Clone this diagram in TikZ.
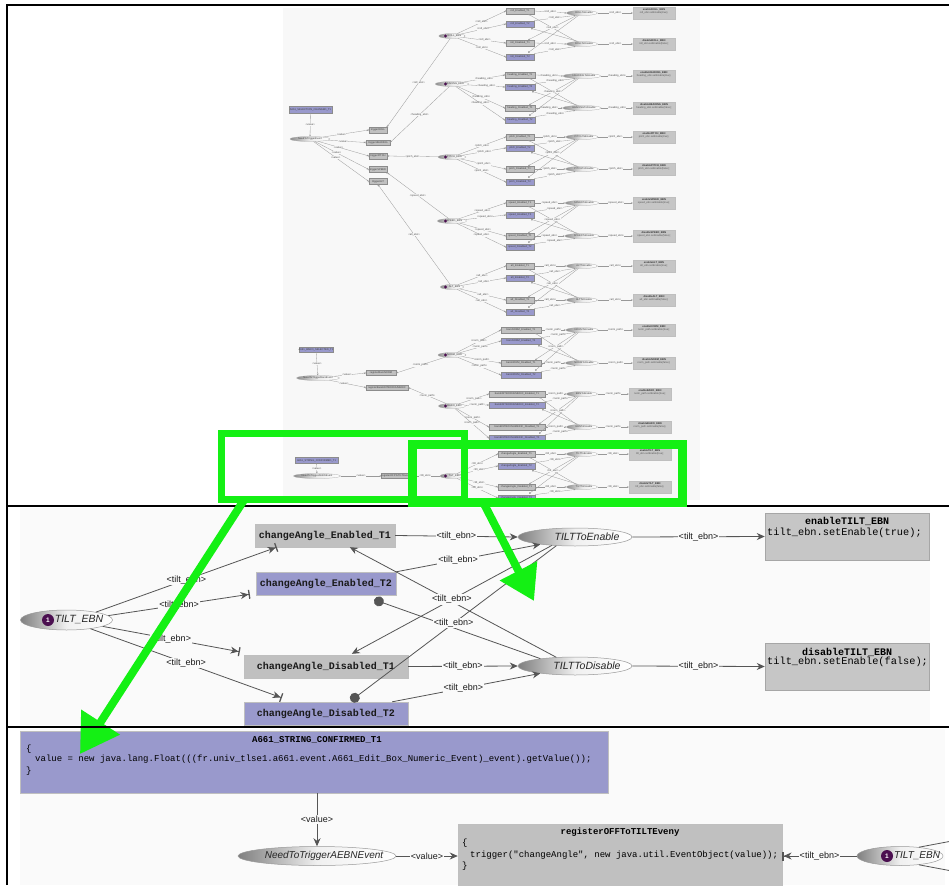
\documentclass[tikz,border=0pt]{standalone}
\usepackage{fontspec}
\setmainfont{Liberation Sans}
\newfontfamily\monof{Liberation Mono}
\usetikzlibrary{arrows.meta,shapes.geometric}
\definecolor{boxgray}{RGB}{192,192,192}
\definecolor{actgray}{RGB}{198,198,198}
\definecolor{boxblue}{RGB}{153,153,204}
\definecolor{panelbg}{RGB}{250,250,250}
\definecolor{netbg}{RGB}{248,248,248}
\definecolor{hgreen}{RGB}{20,240,20}
\definecolor{edgec}{RGB}{85,85,85}
\definecolor{tokc}{RGB}{75,15,80}
\definecolor{darkedge}{RGB}{60,60,60}
\newcommand\tinyf{\fontsize{2.6}{3}\selectfont}
\newcommand\tinyb{\fontsize{2.6}{3}\selectfont\bfseries}
\newcommand\setg[4]{\def\gn{#1}\def\gN{#2}\def\gE{#3}\def\gl{#4}}
\newcommand\pgroup[9]{%
\node[tell, minimum width=22] (g#1e) at (452,#2) {\hspace*{5pt}\gE};
\node[ttok] (g#1k) at (445.5,#2) {};
\node[tgray, minimum width=#7] (g#1b1) at (\bx,#3) {\gn\_Enabled\_T1};
\node[tblue, minimum width=#7] (g#1b2) at (\bx,#4) {\gn\_Enabled\_T2};
\node[tgray, minimum width=#7] (g#1b3) at (\bx,#5) {\gn\_Disabled\_T1};
\node[tblue, minimum width=#7] (g#1b4) at (\bx,#6) {\gn\_Disabled\_T2};
\node[tell, minimum width=31] (g#1t1) at (582,#8) {\hspace*{4pt}\gN ToEnable};
\node[tell, minimum width=31] (g#1t2) at (582,#9) {\hspace*{4pt}\gN ToDisable};
\node[tact] (g#1a1) at (\ax,#8) {};
\node[tact] (g#1a2) at (\ax,#9) {};
\node[tactt] (g#1a1t) at ([yshift=-2.5pt]g#1a1.north) {enable\gE};
\node[tactc] (g#1a1c) at ([yshift=-5.5pt]g#1a1.north) {\gl.setEnable(true);};
\node[tactt] (g#1a2t) at ([yshift=-2.5pt]g#1a2.north) {disable\gE};
\node[tactc] (g#1a2c) at ([yshift=-5.5pt]g#1a2.north) {\gl.setEnable(false);};
\draw[tbar] (g#1e) -- node[tlab]{<\gl>} (g#1b1.west);
\draw[tbar] (g#1e) -- node[tlab]{<\gl>} (g#1b2.west);
\draw[tbar] (g#1e) -- node[tlab]{<\gl>} (g#1b3.west);
\draw[tbar] (g#1e) -- node[tlab]{<\gl>} (g#1b4.west);
\draw[tarr] (g#1b1.east) -- node[tlab]{<\gl>} (g#1t1.west);
\draw[tarr] (g#1b2.north east) -- node[tlab]{<\gl>} (g#1t1.200);
\draw[tarr] (g#1b3.east) -- node[tlab]{<\gl>} (g#1t2.west);
\draw[tarr] (g#1b4.north east) -- node[tlab]{<\gl>} (g#1t2.200);
\draw[tarr] (g#1t1.east) -- node[tlab]{<\gl>} (g#1a1.west);
\draw[tarr] (g#1t2.east) -- node[tlab]{<\gl>} (g#1a2.west);
\draw[tarr] (g#1t1.205) -- ([xshift=-6pt]g#1b3.north east);
\draw[tdot] (g#1t1.215) -- ([xshift=-6pt,yshift=1pt]g#1b4.north east);
\draw[tarr] (g#1t2.155) -- node[tlab]{<\gl>} ([xshift=-6pt]g#1b1.south east);
\draw[tdot] (g#1t2.145) -- ([xshift=-3pt,yshift=-1pt]g#1b2.south east);
}
\begin{document}
\begin{tikzpicture}[x=1pt,y=-1pt,
 tbox/.style={rectangle, inner sep=0pt, font=\tinyf, text=black!75, draw=black!45, line width=0.25pt},
 tgray/.style={tbox, fill=boxgray, minimum height=6},
 tblue/.style={tbox, fill=boxblue, minimum height=6.5},
 tell/.style={ellipse, inner sep=0pt, draw=black!35, line width=0.25pt, left color=black!45, right color=white, middle color=black!8, minimum height=5, font=\tinyf, text=black!75},
 ttok/.style={circle, fill=tokc, inner sep=0pt, minimum size=3.2},
 tact/.style={rectangle, fill=actgray, draw=black!25, line width=0.3pt, minimum width=42, minimum height=12, inner sep=0pt},
 tactt/.style={font=\tinyb, text=black!80, inner sep=0pt},
 tactc/.style={font=\tinyf, text=black!65, inner sep=0pt},
 tline/.style={draw=black!40, line width=0.3pt},
 tarr/.style={tline, -{Stealth[length=1.8pt,width=1.6pt]}},
 tbar/.style={tline, -{Stealth[length=1.8pt,width=1.6pt]Bar[width=2.2pt,line width=0.3pt]}},
 tdot/.style={tline, -{Circle[length=1.8pt]}},
 tlab/.style={font=\tinyf, text=black!70, fill=netbg, inner sep=0.3pt},
 mbox/.style={rectangle, inner sep=0pt, font=\monof\bfseries\fontsize{10}{12}\selectfont, text=black!90, draw=black!25, line width=0.4pt, path picture={\draw[darkedge, line width=2.6pt] (path picture bounding box.south west) -- (path picture bounding box.north west) -- (path picture bounding box.north east);}},
 mell/.style={ellipse, inner sep=0pt, draw=black!40, line width=0.5pt, left color=black!50, right color=white, middle color=black!6},
 etext/.style={font=\itshape\fontsize{10.5}{12}\selectfont, text=black!85, inner sep=0pt},
 tokm/.style={circle, fill=tokc, inner sep=0pt, minimum size=12, text=white, font=\bfseries\fontsize{6.5}{7}\selectfont},
 abox/.style={rectangle, fill=actgray, draw=black!35, line width=0.5pt, inner sep=0pt},
 atitle/.style={font=\monof\bfseries\fontsize{10}{12}\selectfont, inner sep=0pt},
 acode/.style={font=\monof\fontsize{10.3}{12}\selectfont, inner sep=0pt},
 btitle/.style={font=\monof\bfseries\fontsize{9}{11}\selectfont, inner sep=0pt},
 bcode/.style={font=\monof\fontsize{9}{11}\selectfont, inner sep=0pt, anchor=west},
 medge/.style={draw=edgec, line width=0.8pt},
 marr/.style={medge, -{Stealth[length=8pt,width=7pt]}},
 mbar/.style={medge, -{Stealth[length=8pt,width=7pt]Bar[width=9pt,line width=1.3pt]}},
 mdot/.style={medge, -{Circle[length=10pt]}},
 mlab/.style={font=\fontsize{9}{10}\selectfont, text=black!90, fill=panelbg, inner sep=1pt},
 gline/.style={draw=hgreen},
 garr/.style={draw=hgreen, line width=8pt, -{Triangle[length=38pt,width=44pt]}}
]
\useasboundingbox (0,0) rectangle (949,885);
\fill[white] (0,0) rectangle (949,885);
% ===== top panel: overview screenshot =====
\fill[netbg] (283,8) rectangle (700,500);
% net 1
\node[tblue, minimum width=43, minimum height=7] (n1b) at (310.5,109.5) {A661\_SELECTION\_CHANGED\_T1};
\node[tell, minimum width=40] (n1e) at (310,139) {NeedToTriggerEvent};
\node[tgray, minimum width=18] (n1t1) at (378,130) {triggerROLL};
\node[tgray, minimum width=24, minimum height=5] (n1t2) at (378,142.5) {triggerHEADING};
\node[tgray, minimum width=18] (n1t3) at (378,156) {triggerPITCH};
\node[tgray, minimum width=18] (n1t4) at (378,169.5) {triggerSPEED};
\node[tgray, minimum width=18] (n1t5) at (378,181.5) {triggerALT};
\draw[tarr] (n1b) -- node[tlab]{<value>} (n1e);
\draw[tbar] (n1e) -- node[tlab, pos=.4]{<value>} (n1t1.west);
\draw[tbar] (n1e) -- node[tlab, pos=.4]{<value>} (n1t2.west);
\draw[tbar] (n1e) -- node[tlab, pos=.4]{<value>} (n1t3.west);
\draw[tbar] (n1e) -- node[tlab, pos=.4]{<value>} (n1t4.west);
\draw[tbar] (n1e) -- node[tlab, pos=.4]{<value>} (n1t5.west);
\def\ax{654}\def\bx{520}
\setg{roll}{ROLL}{ROLL\_EBN}{roll\_ebn}
\pgroup{1}{36}{11}{24}{43}{57}{28}{13}{44}
\setg{heading}{HEADING}{HEADING\_EBN}{heading\_ebn}
\pgroup{2}{84}{75}{87}{108}{120}{30}{76}{108}
\setg{pitch}{PITCH}{PITCH\_EBN}{pitch\_ebn}
\pgroup{3}{157}{137}{148}{169}{182}{28}{137}{169}
\setg{speed}{SPEED}{SPEED\_EBN}{speed\_ebn}
\pgroup{4}{221}{203}{215}{236}{247}{28}{203}{236}
\setg{alt}{ALT}{ALT\_EBN}{alt\_ebn}
\pgroup{5}{287}{266}{278}{300}{312}{28}{266}{300}
\draw[tbar] (g1e) -- node[tlab]{<roll\_ebn>} (n1t1.north east);
\draw[tbar] (g2e) -- node[tlab]{<heading\_ebn>} (n1t2.east);
\draw[tbar] (g3e) -- node[tlab]{<pitch\_ebn>} (n1t3.east);
\draw[tbar] (g4e) -- node[tlab]{<speed\_ebn>} (n1t4.south east);
\draw[tbar] (g5e) -- node[tlab]{<alt\_ebn>} (n1t5.south);
% net 2
\node[tblue, minimum width=28, minimum height=5] (n2b) at (316,349.5) {A661\_BARO\_SELECTED\_T1};
\node[tell, minimum width=43] (n2e) at (318,378) {NeedToTriggerBaroEvent};
\node[tgray, minimum width=30, minimum height=5] (n2t1) at (381,373) {registerBaroNORM};
\node[tgray, minimum width=42, minimum height=5] (n2t2) at (387,387.5) {registerBaroEDITBOXNUMERIC};
\draw[tarr] (n2b) -- node[tlab]{<value>} (n2e);
\draw[tbar] (n2e) -- node[tlab, pos=.4]{<value>} (n2t1.west);
\draw[tbar] (n2e) -- node[tlab, pos=.4]{<value>} (n2t2.west);
\def\bx{521}
\setg{baroNORM}{NORM}{NORM\_EBN}{norm\_path}
\pgroup{6}{355}{330}{341}{363}{375}{40}{330}{363}
\def\ax{650}\def\bx{517}
\setg{baroEDITBOXNUMERIC}{EBN}{BARO\_EBN}{norm\_path}
\pgroup{7}{406}{394}{405}{427}{438}{56}{394}{427}
\draw[tbar] (g6e) -- node[tlab]{<norm\_path>} (n2t1.east);
\draw[tbar] (g7e) -- node[tlab]{<norm\_path>} (n2t2.east);
% net 3
\node[tblue, minimum width=43, minimum height=6] (n3b) at (316.5,460.5) {A661\_STRING\_CONFIRMED\_T1};
\node[tell, minimum width=47] (n3e) at (317,476) {NeedToTriggerAEBNEvent};
\node[tgray, minimum width=28, minimum height=5] (n3t) at (396,476) {registerOFFToTILTEveny};
\draw[tarr] (n3b) -- node[tlab]{<value>} (n3e);
\draw[tarr] (n3e) -- node[tlab]{<value>} (n3t.west);
\def\bx{516.5}
\setg{changeAngle}{TILT}{TILT\_EBN}{tilt\_ebn}
\pgroup{8}{476}{454}{466}{487}{498}{37}{454}{487}
\draw[tbar] (g8e) -- node[tlab]{<tilt\_ebn>} (n3t.east);
% ===== middle panel =====
\fill[panelbg] (20,508) rectangle (930,725);
\node[mbox, fill=boxgray, minimum width=140, minimum height=23] (ce1) at (325,535.5) {changeAngle\_Enabled\_T1};
\node[mbox, fill=boxblue, minimum width=140, minimum height=23] (ce2) at (326,583.5) {changeAngle\_Enabled\_T2};
\node[mbox, fill=boxgray, minimum width=164, minimum height=23] (cd1) at (326,666.5) {changeAngle\_Disabled\_T1};
\node[mbox, fill=boxblue, minimum width=164, minimum height=23] (cd2) at (326,713.5) {changeAngle\_Disabled\_T2};
\node[mell, minimum width=92, minimum height=20] (tilt) at (66.5,620) {};
\node[tokm] (tok) at (48,620) {1};
\node[etext] (tiltT) at (79,620) {TILT\_EBN};
\node[mell, minimum width=114, minimum height=18] (ten) at (575,537) {};
\node[etext] (tenT) at (587,537) {TILTToEnable};
\node[mell, minimum width=114, minimum height=18] (tdis) at (575,666) {};
\node[etext] (tdisT) at (587,666) {TILTToDisable};
\node[abox, minimum width=164, minimum height=47] (enb) at (847,536.5) {};
\node[atitle] (enbT) at (847,521) {enableTILT\_EBN};
\node[acode, anchor=west] (enbC) at (767,532.5) {tilt\_ebn.setEnable(true);};
\node[abox, minimum width=164, minimum height=47] (disb) at (847,666.5) {};
\node[atitle] (disbT) at (847,652) {disableTILT\_EBN};
\node[acode, anchor=west] (disbC) at (767,662) {tilt\_ebn.setEnable(false);};
\draw[mbar] (tilt.15) -- node[mlab]{<tilt\_ebn>} ([xshift=22pt]ce1.south west);
\draw[mbar] (tilt.6) -- node[mlab]{<tilt\_ebn>} ([xshift=-6pt,yshift=1pt]ce2.south west);
\draw[mbar] (tilt.-10) -- node[mlab]{<tilt\_ebn>} ([xshift=-4pt,yshift=3pt]cd1.north west);
\draw[mbar] (tilt.-20) -- node[mlab]{<tilt\_ebn>} ([xshift=38pt,yshift=4pt]cd2.north west);
\draw[marr] (ce1.east) -- node[mlab]{<tilt\_ebn>} (ten.west);
\draw[marr] (ce2.north east) -- node[mlab, pos=.43]{<tilt\_ebn>} (ten.192);
\draw[marr] (cd1.east) -- node[mlab]{<tilt\_ebn>} (tdis.west);
\draw[marr] ([xshift=-16pt]cd2.north east) -- node[mlab, pos=.48]{<tilt\_ebn>} (tdis.192);
\draw[marr] (ten.east) -- node[mlab]{<tilt\_ebn>} (enb.west);
\draw[marr] (tdis.east) -- node[mlab]{<tilt\_ebn>} (disb.west);
\draw[marr] (tdis.155) -- ([xshift=95pt]ce1.south west);
\draw[mdot] (tdis.168) -- ([xshift=-22pt,yshift=-4.5pt]ce2.south east);
\draw[marr] (ten.200) -- node[mlab, pos=.5]{<tilt\_ebn>} ([xshift=108pt,yshift=1pt]cd1.north west);
\draw[mdot] (ten.205) -- node[mlab, pos=.5]{<tilt\_ebn>} ([xshift=107pt,yshift=1pt]cd2.north west);
% ===== bottom panel =====
\fill[panelbg] (20,729) rectangle (945,885);
\node[mbox, fill=boxblue, minimum width=588, minimum height=62] (a661) at (314,762) {};
\node[btitle] (a661T) at (317,740) {A661\_STRING\_CONFIRMED\_T1};
\node[bcode] (a661o) at (26,749) {\{};
\node[bcode] (a661c) at (35,759) {value = new java.lang.Float(((fr.univ\_tlse1.a661.event.A661\_Edit\_Box\_Numeric\_Event)\_event).getValue());};
\node[bcode] (a661z) at (26,771) {\}};
\node[mell, minimum width=158, minimum height=19] (need) at (317,856) {};
\node[etext, font=\itshape\fontsize{10}{12}\selectfont] (needT) at (324,856) {NeedToTriggerAEBNEvent};
\node[rectangle, fill=boxgray, draw=black!25, line width=0.5pt, minimum width=324, minimum height=64, inner sep=0pt] (reg) at (620,856) {};
\node[btitle] (regT) at (620,832) {registerOFFToTILTEveny};
\node[bcode] (rego) at (462,843) {\{};
\node[bcode] (regc) at (470,855) {trigger("changeAngle", new java.util.EventObject(value));};
\node[bcode] (regz) at (462,866) {\}};
\node[mell, minimum width=86, minimum height=19] (tilt2) at (900,856) {};
\node[tokm] (tok2) at (887,856) {1};
\node[etext, font=\itshape\fontsize{10}{12}\selectfont] (tilt2T) at (917,856) {TILT\_EBN};
\coordinate (off1) at (952,841);
\coordinate (off2) at (952,871);
\draw[marr] ([xshift=3pt]a661.south) -- node[mlab]{<value>} (need.north);
\draw[marr] (need.east) -- node[mlab]{<value>} (reg.west);
\draw[mbar] (tilt2.west) -- node[mlab]{<tilt\_ebn>} (reg.east);
\draw[medge] (tilt2.25) -- (off1);
\draw[medge] (tilt2.-25) -- (off2);
% ===== frame lines =====
\draw[line width=2pt] (7,885) -- (7,5) -- (949,5);
\draw[line width=2pt] (7,506) -- (949,506);
% ===== green highlights =====
\draw[gline, line width=7pt] (221.5,433.5) rectangle (464.5,499.5);
\draw[gline, line width=9pt] (412.5,444.5) rectangle (682.5,502.5);
\coordinate (ga1s) at (244,500);
\coordinate (ga1e) at (80,754);
\coordinate (ga2s) at (482,500);
\coordinate (ga2e) at (534,601);
\draw[garr] (ga1s) -- (ga1e);
\draw[garr, -{Triangle[length=34pt,width=40pt]}] (ga2s) -- (ga2e);
\draw[line width=2pt] (7,727) -- (949,727);
\end{tikzpicture}
\end{document}
